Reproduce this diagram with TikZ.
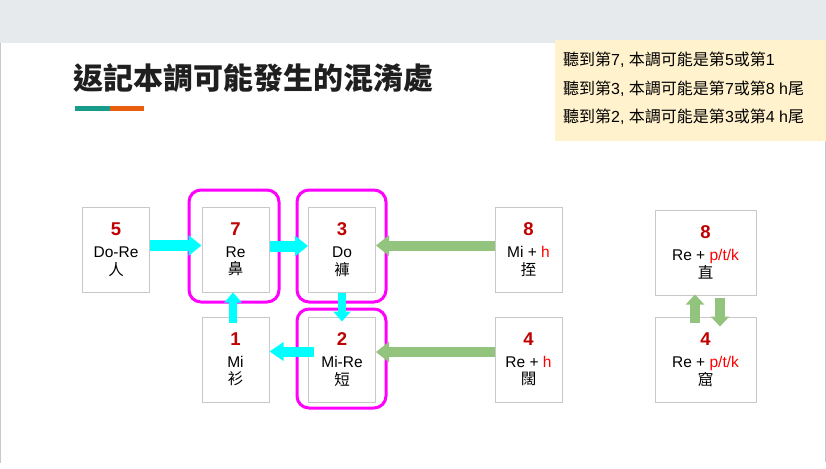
\documentclass[tikz,border=0pt]{standalone}
\usepackage{fontspec}
\setmainfont{Liberation Sans}
\newfontfamily\cjk{Noto Sans CJK TC}
\usetikzlibrary{arrows.meta}
\definecolor{numred}{RGB}{192,0,0}
\definecolor{hred}{RGB}{255,0,0}
\definecolor{bandgray}{RGB}{231,234,236}
\definecolor{boxgray}{RGB}{200,200,200}
\definecolor{noteyellow}{RGB}{255,242,204}
\definecolor{teal}{RGB}{23,156,140}
\definecolor{orng}{RGB}{232,94,12}
\definecolor{arrgreen}{RGB}{147,196,125}
\definecolor{arrcyan}{RGB}{0,255,255}
\definecolor{magenta2}{RGB}{255,0,255}
\newcommand\btext[4]{\parbox{#1}{\centering\fontsize{18.5}{18.5}\selectfont\bfseries\color{numred}#2\par
  \fontsize{15.5}{22}\selectfont\mdseries\color{black}#3\par
  \fontsize{15.5}{17.5}\selectfont{\cjk #4}\par}}
\begin{document}
\begin{tikzpicture}[x=1pt,y=-1pt,
  sbox/.style={draw=boxgray,line width=1pt,inner sep=0pt,minimum width=67pt,minimum height=85pt},
  wbox/.style={sbox,minimum width=101pt},
  hl/.style={draw=magenta2,line width=3pt,rounded corners=12pt,inner sep=0pt},
  cyanarr/.style={draw=arrcyan,line width=11pt,-{Triangle[length=13pt,width=20pt]}},
  cyanarrv/.style={draw=arrcyan,line width=8pt,-{Triangle[length=10pt,width=17pt]}},
  greenarr/.style={draw=arrgreen,line width=10pt,-{Triangle[length=13pt,width=20pt]}},
  greenarrv/.style={draw=arrgreen,line width=10pt,-{Triangle[length=10pt,width=18pt]}},
  note/.style={anchor=base west,inner sep=0pt,font=\fontsize{16}{16}\selectfont}
]
\useasboundingbox (0,0) rectangle (826,468);
\fill[white] (0,0) rectangle (826,468);
\fill[bandgray] (0,0) rectangle (826,43);
\draw[boxgray,line width=1pt] (0.5,43) -- (0.5,463);
\draw[boxgray,line width=1pt] (825.5,43) -- (825.5,462);
% notes
\fill[noteyellow] (555,40) rectangle (826,141);
\node[note] (n1) at (563,66) {{\cjk 聽到第}7, {\cjk 本調可能是第}5{\cjk 或第}1};
\node[note] (n2) at (563,94.3) {{\cjk 聽到第}3, {\cjk 本調可能是第}7{\cjk 或第}8 h{\cjk 尾}};
\node[note] (n3) at (563,122.7) {{\cjk 聽到第}2, {\cjk 本調可能是第}3{\cjk 或第}4 h{\cjk 尾}};
% title
\node[anchor=base west,inner sep=0pt,text=black!88,font=\cjk\bfseries\fontsize{30}{30}\selectfont] (title) at (73,89.5) {返記本調可能發生的混淆處};
\fill[teal] (75,106) rectangle (110,111);
\fill[orng] (110,106) rectangle (144,111);
% boxes
\node[sbox] (b5) at (116,249.5) {\btext{60pt}{5}{Do-Re}{人}};
\node[sbox] (b7) at (235.5,249.5) {\btext{60pt}{7}{Re}{鼻}};
\node[sbox] (b3) at (342,249.5) {\btext{60pt}{3}{Do}{褲}};
\node[sbox] (b8) at (528.5,249.5) {\btext{60pt}{8}{Mi + \textcolor{hred}{h}}{挃}};
\node[sbox] (b1) at (235.5,359.5) {\btext{60pt}{1}{Mi}{衫}};
\node[sbox] (b2) at (342,359.5) {\btext{60pt}{2}{Mi-Re}{短}};
\node[sbox] (b4) at (528.5,359.5) {\btext{60pt}{4}{Re + \textcolor{hred}{h}}{闊}};
\node[wbox] (r8) at (705.5,252.5) {\btext{96pt}{8}{Re + \textcolor{hred}{p/t/k}}{直}};
\node[wbox] (r4) at (705.5,359.5) {\btext{96pt}{4}{Re + \textcolor{hred}{p/t/k}}{窟}};
% highlight frames
\node[hl,minimum width=90pt,minimum height=112pt] (m7) at (234,246) {};
\node[hl,minimum width=89pt,minimum height=112pt] (m3) at (341.5,246) {};
\node[hl,minimum width=89pt,minimum height=99pt] (m2) at (341.5,358.5) {};
% connectors
\draw[cyanarr] ([yshift=4pt]b5.east) -- ([yshift=4pt]b7.west);
\draw[cyanarr] ([yshift=3.5pt]b7.east) -- ([yshift=3.5pt]b3.west);
\draw[cyanarrv] (b3.south) -- ([yshift=-5pt]b2.north);
\draw[cyanarr,line width=10pt,-{Triangle[length=14pt,width=18pt]}] ([xshift=6pt,yshift=8pt]b2.west) -- ([yshift=8pt]b1.east);
\draw[cyanarrv] ([xshift=-2.5pt,yshift=-6pt]b1.north) -- ([xshift=-2.5pt]b7.south);
\draw[greenarr] ([yshift=4pt]b8.west) -- ([yshift=4pt]b3.east);
\draw[greenarr] ([yshift=7.5pt]b4.west) -- ([yshift=7.5pt]b2.east);
\draw[greenarrv] ([xshift=-10.5pt,yshift=-6pt]r4.north) -- ([xshift=-10.5pt,yshift=1pt]r8.south);
\draw[greenarrv] ([xshift=14.5pt,yshift=-2pt]r8.south) -- ([xshift=14.5pt,yshift=-10pt]r4.north);
\end{tikzpicture}
\end{document}
